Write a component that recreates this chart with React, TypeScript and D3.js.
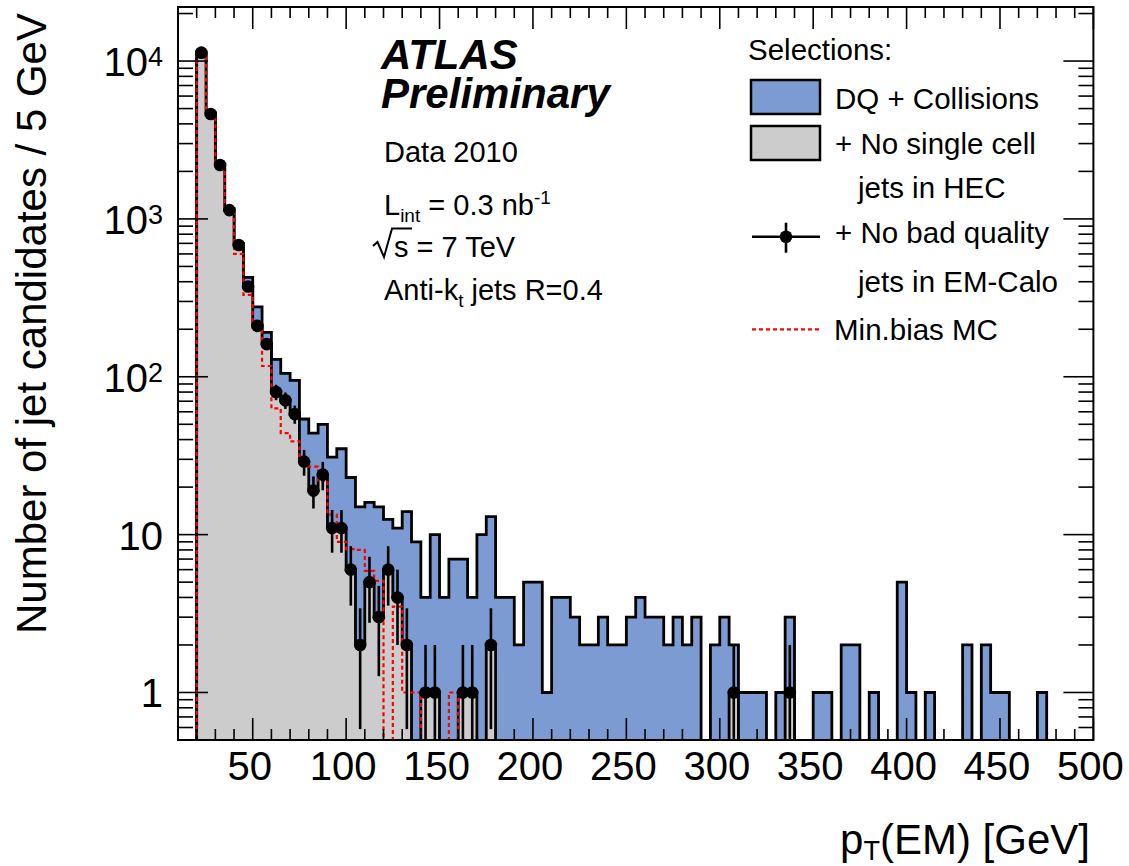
import React, { useEffect, useRef } from 'react';
import * as d3 from 'd3';

// 5 GeV bins starting at 20 GeV
const binStart = 20;
const binWidth = 5;

// DQ + Collisions (blue)
const dqCounts = [
  11500, 4700, 2230, 1160, 700, 426, 277, 191, 129, 105,
  95, 54, 44, 50, 31, 35, 23, 15, 16, 15,
  12.5, 11, 14, 9, 4, 10, 4, 7, 7, 4,
  10, 13, 4, 4, 2, 5, 5, 1, 4, 4,
  3, 2, 2, 3, 2, 2, 3, 4, 3, 3,
  2, 3, 2, 3, 0, 2, 3, 2, 1, 1,
  1, 0, 1, 3, 0, 0, 1, 1, 0, 2,
  2, 0, 1, 0, 0, 5, 1, 0, 1, 0,
  0, 0, 2, 0, 2, 1, 1, 0, 0, 0,
  1,
];

// + No single cell jets in HEC (grey)
const hecCounts = [
  11300, 4620, 2195, 1137, 683, 373, 210, 161, 80, 71,
  58, 29, 19, 24, 11, 11, 6, 2, 5, 3,
  6, 4, 2, 0, 1, 1, 0, 0, 1, 1,
  0, 2, 0, 0, 0, 0, 0, 0, 0, 0,
  0, 0, 0, 0, 0, 0, 0, 0, 0, 0,
  0, 0, 0, 0, 0, 0, 0, 1, 0, 0,
  0, 0, 0, 1,
];

// + No bad quality jets in EM-Calo (points)
const emCounts = [
  11300, 4620, 2195, 1137, 683, 373, 210, 161, 80, 71,
  58, 29, 19, 24, 11, 11, 6, 2, 5, 3,
  6, 4, 2, 0, 1, 1, 0, 0, 1, 1,
  0, 2, 0, 0, 0, 0, 0, 0, 0, 0,
  0, 0, 0, 0, 0, 0, 0, 0, 0, 0,
  0, 0, 0, 0, 0, 0, 0, 1, 0, 0,
  0, 0, 0, 1,
];

// Min.bias MC (red dashed)
const mcCounts = [
  11000, 4500, 2150, 1100, 600, 330, 200, 117, 63, 44,
  39, 29, 27, 22, 13.4, 9, 8.1, 8, 5.9, 5.1,
  0, 3.5, 1, 1, 0, 0, 0, 1,
];

const xTicks = [50, 100, 150, 200, 250, 300, 350, 400, 450, 500];
const yTicks = [1, 10, 100, 1000, 10000];
const yTickLabels = [['1', ''], ['10', ''], ['10', '2'], ['10', '3'], ['10', '4']];

const FONT = "'Liberation Sans', Arial, Helvetica, sans-serif";
const BLUE = '#7b9bd2';
const GREY = '#cccccc';

const App = () => {
  const svgRef = useRef<SVGSVGElement>(null);

  useEffect(() => {
    const svg = d3.select(svgRef.current);
    svg.selectAll('*').remove();

    const left = 178, right = 1093.4, top = 7, bottom = 740;
    const x = d3.scaleLinear().domain([10, 500]).range([left, right]);
    const y = d3.scaleLog().domain([0.5, 22000]).range([bottom, top]);

    svg.append('defs').append('clipPath').attr('id', 'frame')
      .append('rect').attr('x', left).attr('y', top)
      .attr('width', right - left).attr('height', bottom - top);

    const plot = svg.append('g').attr('clip-path', 'url(#frame)');

    const yOf = (c: number) => (c > 0 ? y(c) : bottom + 10);

    const stepPoints = (counts: number[]) => {
      const pts: [number, number][] = [[x(binStart), bottom + 10]];
      counts.forEach((c, i) => {
        const lo = binStart + i * binWidth;
        pts.push([x(lo), yOf(c)], [x(lo + binWidth), yOf(c)]);
      });
      pts.push([x(binStart + counts.length * binWidth), bottom + 10]);
      return pts;
    };
    const line = d3.line();

    // blue
    plot.append('path').attr('d', line(stepPoints(dqCounts)) + 'Z')
      .attr('fill', BLUE).attr('stroke', 'black').attr('stroke-width', 2.8);
    // grey
    plot.append('path').attr('d', line(stepPoints(hecCounts)) + 'Z')
      .attr('fill', GREY).attr('stroke', 'black').attr('stroke-width', 2.8);
    // MC
    plot.append('path').attr('d', line(stepPoints(mcCounts)))
      .attr('fill', 'none').attr('stroke', '#ff0000').attr('stroke-width', 2.2)
      .attr('stroke-dasharray', '4,3');

    // points with errors
    const pts = emCounts
      .map((c, i) => ({ c, xc: x(binStart + (i + 0.5) * binWidth) }))
      .filter((d) => d.c > 0);
    plot.selectAll('line.err').data(pts).enter().append('line')
      .attr('x1', (d) => d.xc).attr('x2', (d) => d.xc)
      .attr('y1', (d) => y(d.c + Math.sqrt(d.c)))
      .attr('y2', (d) => (d.c - Math.sqrt(d.c) > 0 ? y(d.c - Math.sqrt(d.c)) : bottom + 5))
      .attr('stroke', 'black').attr('stroke-width', 2.6);
    plot.selectAll('circle.pt').data(pts).enter().append('circle')
      .attr('cx', (d) => d.xc).attr('cy', (d) => y(d.c)).attr('r', 6.3)
      .attr('fill', 'black');

    // frame
    svg.append('rect').attr('x', left).attr('y', top)
      .attr('width', right - left).attr('height', bottom - top)
      .attr('fill', 'none').attr('stroke', 'black').attr('stroke-width', 2);

    const axes = svg.append('g').attr('stroke', 'black').attr('stroke-width', 1.6);
    // x ticks
    d3.range(10, 501, 10).forEach((v) => {
      const len = v % 50 === 0 ? 22 : 11;
      axes.append('line').attr('x1', x(v)).attr('x2', x(v)).attr('y1', bottom).attr('y2', bottom - len);
      axes.append('line').attr('x1', x(v)).attr('x2', x(v)).attr('y1', top).attr('y2', top + len);
    });
    // y ticks
    const minor: number[] = [];
    [0.1, 1, 10, 100, 1000, 10000].forEach((d) => {
      for (let k = 2; k <= 9; k++) {
        const v = d * k;
        if (v >= 0.5 && v <= 22000) minor.push(v);
      }
    });
    minor.forEach((v) => {
      axes.append('line').attr('x1', left).attr('x2', left + 15).attr('y1', y(v)).attr('y2', y(v));
      axes.append('line').attr('x1', right).attr('x2', right - 15).attr('y1', y(v)).attr('y2', y(v));
    });
    yTicks.forEach((v) => {
      axes.append('line').attr('x1', left).attr('x2', left + 30).attr('y1', y(v)).attr('y2', y(v));
      axes.append('line').attr('x1', right).attr('x2', right - 30).attr('y1', y(v)).attr('y2', y(v));
    });

    // tick labels
    const tl = svg.append('g').attr('font-family', FONT).attr('fill', 'black');
    xTicks.forEach((v) => {
      tl.append('text').attr('x', x(v) - 3).attr('y', 779.5)
        .attr('text-anchor', 'middle').attr('font-size', 40).text(String(v));
    });
    yTicks.forEach((v, i) => {
      const [base, exp] = yTickLabels[i];
      const t = tl.append('text').attr('x', 163).attr('y', y(v) + 15)
        .attr('text-anchor', 'end').attr('font-size', 40);
      t.append('tspan').text(base);
      if (exp) t.append('tspan').attr('font-size', 27).attr('dy', -10).text(exp);
    });

    // axis titles
    tl.append('text').attr('transform', 'translate(46,13) rotate(-90)')
      .attr('text-anchor', 'end').attr('font-size', 42)
      .text('Number of jet candidates / 5 GeV');
    const xt = tl.append('text').attr('x', 1090).attr('y', 854)
      .attr('text-anchor', 'end').attr('font-size', 42);
    xt.append('tspan').text('p');
    xt.append('tspan').attr('font-size', 27).attr('dy', 6).text('T');
    xt.append('tspan').attr('dy', -6).text('(EM) [GeV]');

    // ATLAS labels
    const lab = svg.append('g').attr('font-family', FONT).attr('fill', 'black');
    lab.append('text').attr('x', 381).attr('y', 69).attr('font-size', 42)
      .attr('font-weight', 'bold').attr('font-style', 'italic').text('ATLAS');
    lab.append('text').attr('x', 381).attr('y', 108).attr('font-size', 42)
      .attr('font-weight', 'bold').attr('font-style', 'italic').text('Preliminary');
    lab.append('text').attr('x', 384).attr('y', 161.5).attr('font-size', 29).text('Data 2010');
    const lint = lab.append('text').attr('x', 384).attr('y', 215).attr('font-size', 29);
    lint.append('tspan').text('L');
    lint.append('tspan').attr('font-size', 19).attr('dy', 7).text('int');
    lint.append('tspan').attr('dy', -7).text(' = 0.3 nb');
    lint.append('tspan').attr('font-size', 19).attr('dy', -11).text('-1');
    // radical sign for sqrt(s)
    lab.append('path').attr('d', 'M373,246 L377.5,242 L384,257 L392,228.5 L412,228.5')
      .attr('fill', 'none').attr('stroke', 'black').attr('stroke-width', 2)
      .attr('stroke-linejoin', 'miter');
    lab.append('text').attr('x', 394).attr('y', 256.7).attr('font-size', 29).text('s = 7 TeV');
    const anti = lab.append('text').attr('x', 384).attr('y', 300).attr('font-size', 29);
    anti.append('tspan').text('Anti-k');
    anti.append('tspan').attr('font-size', 19).attr('dy', 7).text('t');
    anti.append('tspan').attr('dy', -7).text(' jets R=0.4');

    // legend
    const lg = svg.append('g').attr('font-family', FONT).attr('font-size', 29.5).attr('fill', 'black');
    lg.append('text').attr('x', 748).attr('y', 60).text('Selections:');
    lg.append('rect').attr('x', 751).attr('y', 80).attr('width', 69).attr('height', 34)
      .attr('fill', BLUE).attr('stroke', 'black').attr('stroke-width', 2.5);
    lg.append('text').attr('x', 835).attr('y', 109).text('DQ + Collisions');
    lg.append('rect').attr('x', 751).attr('y', 126).attr('width', 69).attr('height', 34)
      .attr('fill', GREY).attr('stroke', 'black').attr('stroke-width', 2.5);
    lg.append('text').attr('x', 835).attr('y', 154).text('+ No single cell');
    lg.append('text').attr('x', 858).attr('y', 198).text('jets in HEC');
    lg.append('line').attr('x1', 752).attr('x2', 820).attr('y1', 236.7).attr('y2', 236.7)
      .attr('stroke', 'black').attr('stroke-width', 2.6);
    lg.append('line').attr('x1', 786).attr('x2', 786).attr('y1', 222.7).attr('y2', 252.7)
      .attr('stroke', 'black').attr('stroke-width', 2.6);
    lg.append('circle').attr('cx', 786).attr('cy', 236.7).attr('r', 6.3).attr('fill', 'black');
    lg.append('text').attr('x', 835).attr('y', 243).text('+ No bad quality');
    lg.append('text').attr('x', 858).attr('y', 291.5).text('jets in EM-Calo');
    lg.append('line').attr('x1', 752).attr('x2', 820).attr('y1', 329.3).attr('y2', 329.3)
      .attr('stroke', '#ff0000').attr('stroke-width', 2.2).attr('stroke-dasharray', '4,3');
    lg.append('text').attr('x', 834).attr('y', 340).text('Min.bias MC');
  }, []);

  return (
    <div>
      <svg ref={svgRef} width={1129} height={866}
        style={{ position: 'absolute', left: 0, top: 0, background: 'white' }} />
    </div>
  );
};

export default App;
